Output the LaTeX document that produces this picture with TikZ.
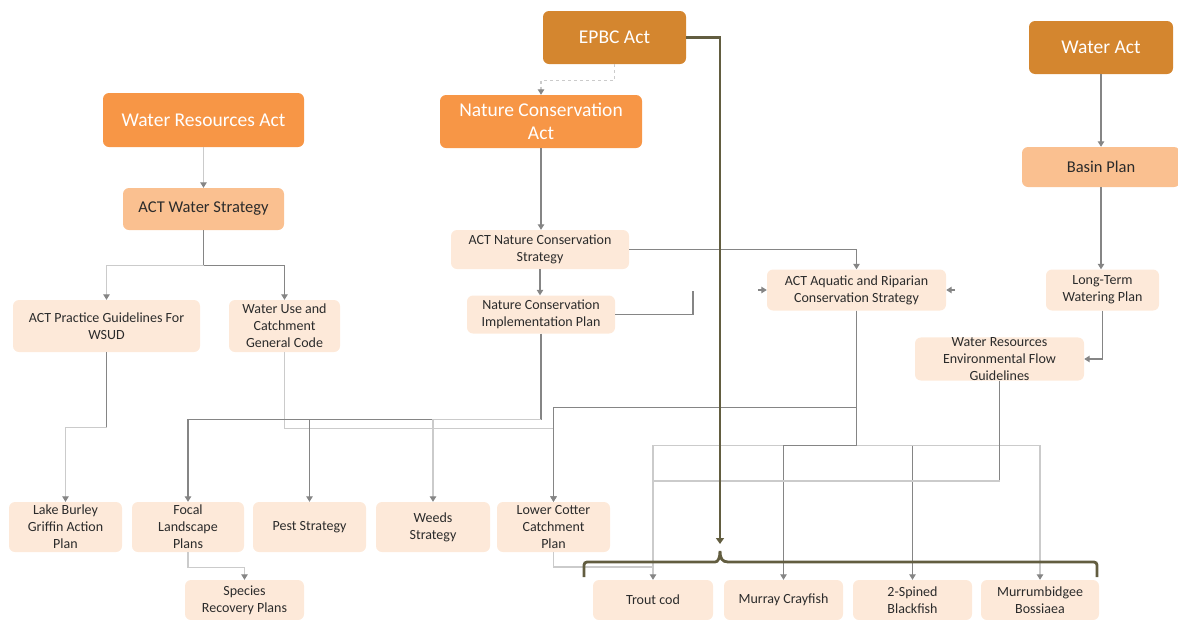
\documentclass[tikz,border=0pt]{standalone}
\usepackage{fontspec}
\setmainfont{Carlito}
\usetikzlibrary{arrows.meta,calc}

\definecolor{actdark}{HTML}{D4862F}
\definecolor{actorange}{HTML}{F79646}
\definecolor{planmid}{HTML}{FAC090}
\definecolor{planlight}{HTML}{FDE9D9}
\definecolor{linkmid}{HTML}{858585}
\definecolor{linklite}{HTML}{CBCBCB}
\definecolor{epbcline}{HTML}{625D40}
\definecolor{txt}{HTML}{2B2B2B}

\tikzset{
  box/.style={rounded corners=6pt, inner sep=0pt, align=center, anchor=center},
  actbox/.style={box, fill=actdark, text=white, font=\fontsize{19.5}{23}\selectfont},
  lawbox/.style={box, fill=actorange, text=white, font=\fontsize{19.5}{23}\selectfont},
  stratbox/.style={box, fill=planmid, text=txt, font=\fontsize{16.5}{19}\selectfont},
  planbox/.style={box, fill=planlight, text=txt, font=\fontsize{14}{17}\selectfont},
  tip/.style={-{Triangle[width=6.5pt,length=5.5pt,color=linkmid]}},
  mid/.style={draw=linkmid, line width=1.1pt},
  lite/.style={draw=linklite, line width=1.1pt},
  epbclink/.style={draw=epbcline, line width=2.8pt},
}

\begin{document}
\begin{tikzpicture}[x=1pt,y=-1pt]
\useasboundingbox (0,0) rectangle (1178,619);

% --- Acts
\node[actbox, minimum width=143pt, minimum height=53pt] (epbc) at (614.5,37.5) {EPBC Act};
\node[actbox, minimum width=144pt, minimum height=53pt] (wact) at (1101,47.5) {Water Act};
\node[lawbox, minimum width=201pt, minimum height=54pt] (wra) at (203.5,120) {Water Resources Act};
\node[lawbox, minimum width=202pt, minimum height=53pt] (nca) at (541,121.5) {Nature Conservation\\Act};

% --- Strategies
\node[stratbox, minimum width=161pt, minimum height=42pt] (aws) at (203.5,209) {ACT Water Strategy};
\node[stratbox, minimum width=158pt, minimum height=40pt] (basin) at (1101,167) {Basin Plan};

% --- Plans and guidelines
\node[planbox, minimum width=178pt, minimum height=39pt] (ancs) at (540,249.5) {ACT Nature Conservation\\Strategy};
\node[planbox, minimum width=148pt, minimum height=38pt] (ncip) at (541,314.5) {Nature Conservation\\Implementation Plan};
\node[planbox, minimum width=179pt, minimum height=41pt] (aqua) at (856.5,290) {ACT Aquatic and Riparian\\Conservation Strategy};
\node[planbox, minimum width=113pt, minimum height=41pt] (ltwp) at (1102.5,290) {Long-Term\\Watering Plan};
\node[planbox, minimum width=169pt, minimum height=43pt] (wrefg) at (999.5,359) {Water Resources\\Environmental Flow\\Guidelines};
\node[planbox, minimum width=187pt, minimum height=52pt] (wsud) at (106.5,326) {ACT Practice Guidelines For\\WSUD};
\node[planbox, minimum width=111pt, minimum height=52pt] (wucode) at (284.5,326) {Water Use and\\Catchment\\General Code};

\node[planbox, minimum width=113pt, minimum height=50pt] (lbg) at (65.5,527) {Lake Burley\\Griffin Action\\Plan};
\node[planbox, minimum width=112pt, minimum height=50pt] (focal) at (188,527) {Focal\\Landscape\\Plans};
\node[planbox, minimum width=113pt, minimum height=50pt] (pest) at (309.5,527) {Pest Strategy};
\node[planbox, minimum width=114pt, minimum height=50pt] (weeds) at (433,527) {Weeds\\Strategy};
\node[planbox, minimum width=113pt, minimum height=50pt] (cotter) at (553.5,527) {Lower Cotter\\Catchment\\Plan};
\node[planbox, minimum width=119pt, minimum height=40pt] (species) at (244.5,600) {Species\\Recovery Plans};

\node[planbox, minimum width=120pt, minimum height=40pt] (trout) at (653,600) {Trout cod};
\node[planbox, minimum width=119pt, minimum height=40pt] (crayfish) at (783.5,600) {Murray Crayfish};
\node[planbox, minimum width=119pt, minimum height=40pt] (blackfish) at (912.5,600) {2-Spined\\Blackfish};
\node[planbox, minimum width=118pt, minimum height=40pt] (bossiaea) at (1040,600) {Murrumbidgee\\Bossiaea};

% --- Junction points of the connector buses
\coordinate (awsbus) at ($(aws.south)+(0,35)$);
\coordinate (wsudbend) at ($(wsud.south)+(0,75)$);
\coordinate (ncbus) at ($(ncip.south)+(0,86)$);
\coordinate (aqbus) at ($(aqua.south)+(0,135)$);
\coordinate (wfbend) at (wrefg.south |- 0,481);
\coordinate (wfbus) at (trout.north |- 0,481);
\coordinate (ctjoin) at (trout.north |- 0,567);
\coordinate (ncstub) at (693,291);
\coordinate (aqL) at ($(aqua.west)+(-9,0)$);
\coordinate (aqR) at ($(aqua.east)+(9,0)$);
\coordinate (epbctip) at (720,544);

% --- Water Resources Act branch
\draw[lite,tip] (wra.south) -- (wra.south |- aws.north);
\draw[mid] (aws.south) -- (awsbus);
\draw[lite,tip] (awsbus) -| (wsud.north);
\draw[mid,tip] (awsbus) -| (wucode.north);
\draw[mid] (wsud.south) -- (wsudbend);
\draw[lite,tip] (wsudbend) -| (lbg.north);
\draw[lite,tip] (wucode.south) -- ++(0,76) -| (cotter.north);

% --- Nature Conservation branch
\draw[lite,dashed,tip] (epbc.south) -- ++(0,16) -| (nca.north);
\draw[mid,tip] (nca.south) -- (nca.south |- ancs.north);
\draw[mid,tip] (ancs.south) -- (ancs.south |- ncip.north);
\draw[mid,tip] (ancs.east) -| (aqua.north);
\draw[mid] (ncip.east) -| (ncstub);
\draw[mid,tip] (aqL) -- (aqua.west);
\draw[mid,tip] (aqR) -- (aqua.east);
\draw[mid] (ncip.south) -- (ncbus);
\draw[mid,tip] (ncbus) -| (focal.north);
\draw[mid,tip] (ncbus) -| (pest.north);
\draw[lite,tip] (ncbus) -| (weeds.north);
\draw[lite,tip] (focal.south) -- ++(0,15) -| (species.north);
\draw[lite] (cotter.south) |- (ctjoin);

% --- Aquatic and Riparian strategy to species
\draw[mid,tip] (aqua.south) -- ++(0,97) -| (cotter.north);
\draw[mid] (aqua.south) -- (aqbus);
\draw[lite,tip] (aqbus) -| (trout.north);
\draw[mid,tip] (aqbus) -| (crayfish.north);
\draw[mid,tip] (aqbus) -| (blackfish.north);
\draw[lite,tip] (aqbus) -| (bossiaea.north);

% --- Water Act branch
\draw[mid,tip] (wact.south) -- (wact.south |- basin.north);
\draw[mid,tip] (basin.south) -- (basin.south |- ltwp.north);
\draw[mid,tip] (ltwp.south) |- (wrefg.east);
\draw[mid] (wrefg.south) -- (wfbend);
\draw[lite] (wfbend) -- (wfbus);

% --- EPBC Act link to the threatened species
\draw[epbclink,-{Triangle[width=8pt,length=6pt]}] (epbc.east) -| (epbctip);
\draw[epbclink] (584,577) [rounded corners=3pt] |- (712,562) [sharp corners]
  .. controls (718,562) and (720,558) .. (720,551)
  .. controls (720,558) and (722,562) .. (728,562)
  [rounded corners=3pt] -| (1097,577);
\end{tikzpicture}
\end{document}
